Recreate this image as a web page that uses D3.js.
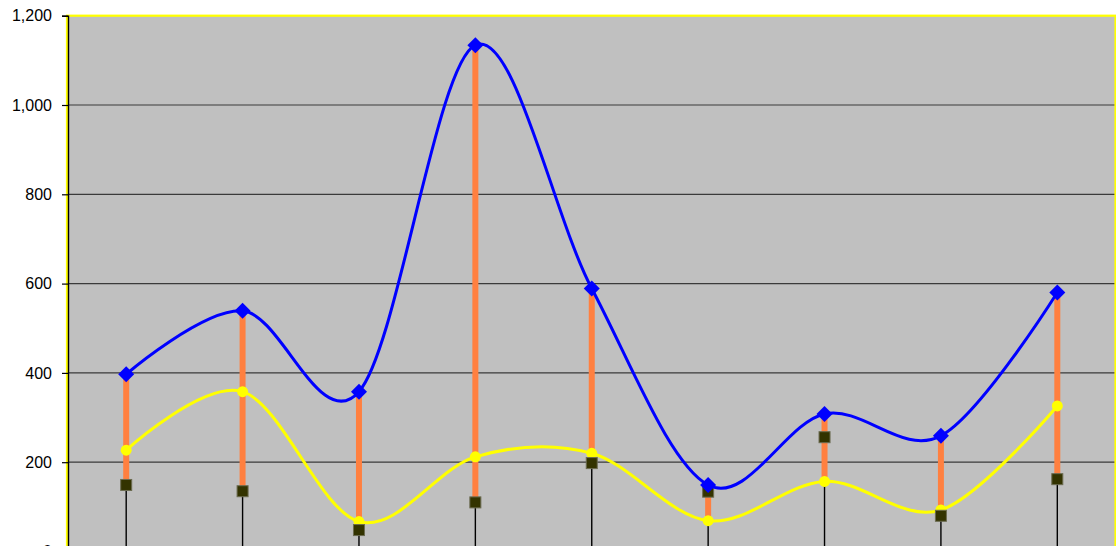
<!DOCTYPE html>
<html>
<head>
<meta charset="utf-8">
<script src="https://cdn.jsdelivr.net/npm/d3@7"></script>
<style>
  html, body { margin: 0; padding: 0; background: #ffffff; }
  svg { display: block; }
</style>
</head>
<body>
<svg id="chart" width="1116" height="546"></svg>
<script>
// Category slots along the x axis
const categories = ["1", "2", "3", "4", "5", "6", "7", "8", "9"];

// Series values
const highValues  = [397, 539, 358, 1134, 589, 149, 308, 259, 580];   // blue diamonds
const lowValues   = [149, 135, 48, 110, 198, 134, 256, 80, 162];      // dark squares
const closeValues = [227, 358, 67, 212, 220, 69, 157, 93, 326];       // yellow circles

// Value axis ticks
const yTicks = [0, 200, 400, 600, 800, 1000, 1200];

const svg = d3.select("#chart");
const plotLeft = 68, plotRight = 1115.5, plotTop = 15.7, plotBottom = 551.5;

const x = d3.scaleBand().domain(categories).range([plotLeft, plotRight]).paddingInner(0).paddingOuter(0);
const y = d3.scaleLinear().domain([0, 1200]).range([plotBottom, plotTop]);
const cx = c => x(c) + x.bandwidth() / 2;

// Plot area
svg.append("rect")
  .attr("x", plotLeft).attr("y", plotTop)
  .attr("width", plotRight - plotLeft).attr("height", plotBottom - plotTop)
  .attr("fill", "#c0c0c0");

// Horizontal gridlines
svg.append("g")
  .selectAll("line")
  .data(yTicks.filter(t => t > 0 && t < 1200))
  .join("line")
  .attr("x1", plotLeft).attr("x2", plotRight)
  .attr("y1", d => y(d)).attr("y2", d => y(d))
  .attr("stroke", "#3a3a3a").attr("stroke-width", 1.2);

// Plot border
svg.append("rect")
  .attr("x", plotLeft - 1).attr("y", plotTop)
  .attr("width", plotRight - plotLeft + 1).attr("height", plotBottom - plotTop)
  .attr("fill", "none")
  .attr("stroke", "#ffff00").attr("stroke-width", 2.2);

// Value axis
const yAxis = d3.axisLeft(y)
  .tickValues(yTicks)
  .tickSize(6)
  .tickPadding(10)
  .tickFormat(d3.format(","));
const gy = svg.append("g")
  .attr("transform", `translate(${plotLeft},0)`)
  .call(yAxis);
gy.select(".domain").attr("stroke", "#000").attr("stroke-width", 1.4);
gy.selectAll(".tick line").attr("stroke", "#000").attr("stroke-width", 1.2);
gy.selectAll(".tick text")
  .attr("fill", "#000")
  .style("font-family", "'Liberation Sans', Arial, sans-serif")
  .style("font-size", "16px");

const rows = categories.map((c, i) => ({
  c, hi: highValues[i], lo: lowValues[i], cl: closeValues[i]
}));

// Drop lines from the highest point to the axis
svg.append("g")
  .selectAll("line")
  .data(rows)
  .join("line")
  .attr("x1", d => cx(d.c)).attr("x2", d => cx(d.c))
  .attr("y1", d => y(Math.max(d.hi, d.lo, d.cl)))
  .attr("y2", y(0))
  .attr("stroke", "#000").attr("stroke-width", 1.4);

// High-low lines
svg.append("g")
  .selectAll("line")
  .data(rows)
  .join("line")
  .attr("x1", d => cx(d.c)).attr("x2", d => cx(d.c))
  .attr("y1", d => y(Math.max(d.hi, d.lo, d.cl)))
  .attr("y2", d => y(Math.min(d.hi, d.lo, d.cl)))
  .attr("stroke", "#ff8040").attr("stroke-width", 6);

const smooth = d3.curveCatmullRom.alpha(0);

// Close series line + markers
svg.append("path")
  .datum(rows)
  .attr("d", d3.line().x(d => cx(d.c)).y(d => y(d.cl)).curve(smooth))
  .attr("fill", "none").attr("stroke", "#ffff00").attr("stroke-width", 3);
svg.append("g")
  .selectAll("circle")
  .data(rows)
  .join("circle")
  .attr("cx", d => cx(d.c)).attr("cy", d => y(d.cl))
  .attr("r", 5.5)
  .attr("fill", "#ffff00");

// Low series markers
svg.append("g")
  .selectAll("rect")
  .data(rows)
  .join("rect")
  .attr("x", d => cx(d.c) - 5.5).attr("y", d => y(d.lo) - 5.5)
  .attr("width", 11).attr("height", 11)
  .attr("fill", "#333300")
  .attr("stroke", "#6b6b50").attr("stroke-width", 1);

// High series line + markers
svg.append("path")
  .datum(rows)
  .attr("d", d3.line().x(d => cx(d.c)).y(d => y(d.hi)).curve(smooth))
  .attr("fill", "none").attr("stroke", "#0000ff").attr("stroke-width", 3);
svg.append("g")
  .selectAll("path")
  .data(rows)
  .join("path")
  .attr("transform", d => `translate(${cx(d.c)},${y(d.hi)})`)
  .attr("d", "M0,-8L8,0L0,8L-8,0Z")
  .attr("fill", "#0000ff");
</script>
</body>
</html>
